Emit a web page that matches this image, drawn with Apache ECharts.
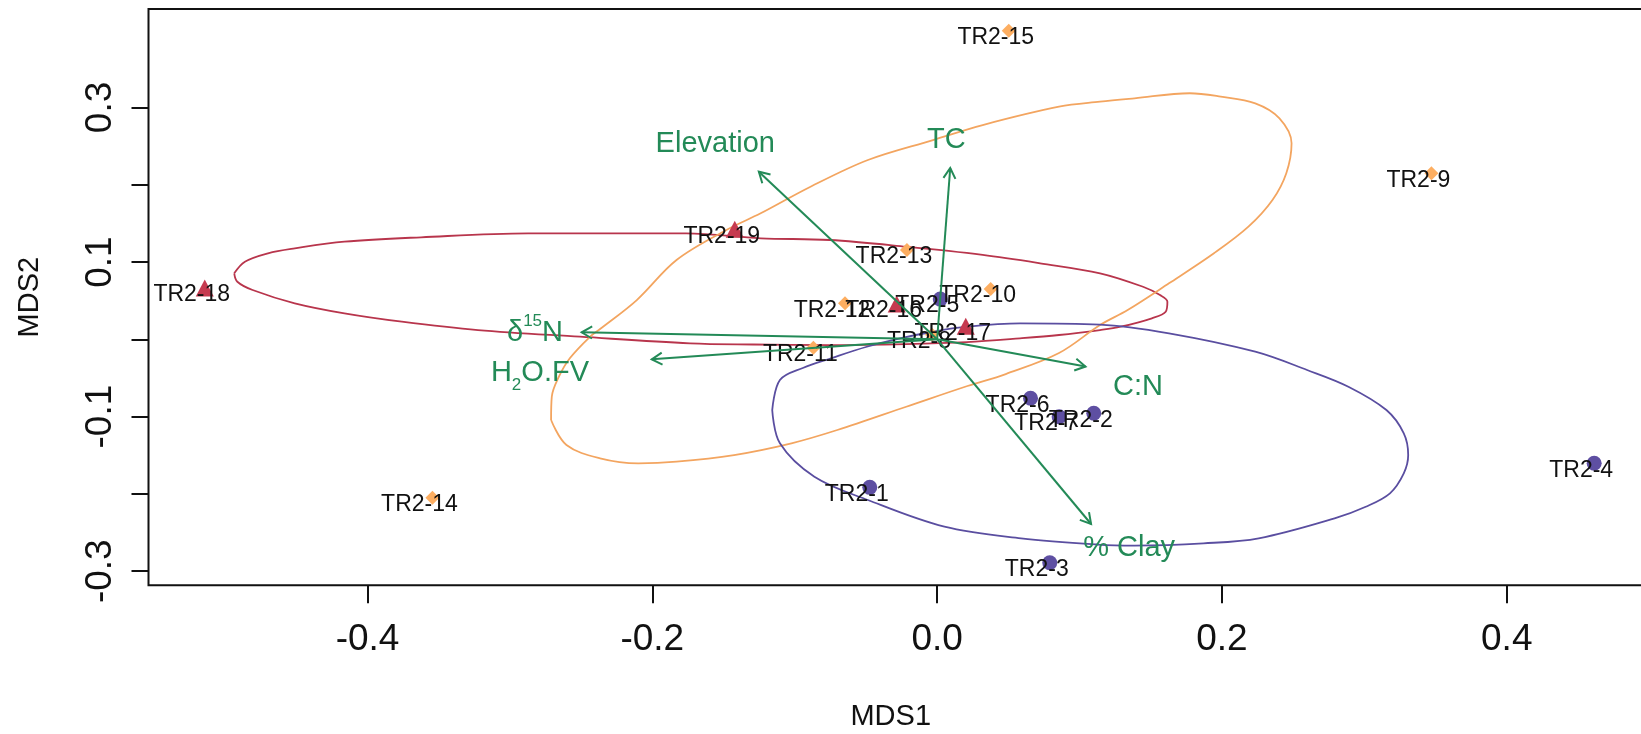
<!DOCTYPE html>
<html>
<head>
<meta charset="utf-8">
<title>NMDS ordination</title>
<script src="https://cdn.jsdelivr.net/npm/echarts@6/dist/echarts.min.js"></script>
<style>
  html, body { margin: 0; padding: 0; background: #ffffff; }
  #chart { width: 1641px; height: 734px; }
</style>
</head>
<body>
<div id="chart"></div>
<script>
// ---- sample scores (MDS1, MDS2) by group ----
const blueNames = ['TR2-1', 'TR2-2', 'TR2-3', 'TR2-4', 'TR2-5', 'TR2-6', 'TR2-7'];
const blueX = [-0.0473, 0.1100, 0.0791, 0.4614, 0.0022, 0.0656, 0.0857];
const blueY = [-0.1915, -0.0957, -0.2890, -0.1604, 0.0520, -0.0763, -0.1001];

const orangeNames = ['TR2-8', 'TR2-9', 'TR2-10', 'TR2-11', 'TR2-12', 'TR2-13', 'TR2-14', 'TR2-15'];
const orangeX = [-0.0036, 0.3471, 0.0376, -0.0869, -0.0647, -0.0212, -0.3544, 0.0503];
const orangeY = [0.0060, 0.2147, 0.0650, -0.0110, 0.0466, 0.1155, -0.2049, 0.3992];

const redNames = ['TR2-16', 'TR2-17', 'TR2-18', 'TR2-19'];
const redX = [-0.0284, 0.0201, -0.5143, -0.1421];
const redY = [0.0456, 0.0170, 0.0664, 0.1423];

// ---- group ellipse outlines ----
const redEllipseX = [-0.4936, -0.4861, -0.4699, -0.4511, -0.4162, -0.3624, -0.2873, -0.2367, -0.1763, -0.1239,
  -0.0755, -0.0217, 0.0320, 0.0723, 0.1144, 0.1446, 0.1565, 0.1617, 0.1605, 0.1508, 0.1289, 0.1144, 0.0856,
  0.0582, 0.0208, -0.0218, -0.0752, -0.1293, -0.1735, -0.2508, -0.3224, -0.3759, -0.4162, -0.4511, -0.4807, -0.4914];
const redEllipseY = [0.0854, 0.1004, 0.1113, 0.1177, 0.1263, 0.1320, 0.1371, 0.1371, 0.1371, 0.1307,
  0.1285, 0.1198, 0.1091, 0.0983, 0.0854, 0.0680, 0.0573, 0.0486, 0.0357, 0.0272, 0.0163, 0.0120, 0.0056,
  0.0013, -0.0035, -0.0061, -0.0074, -0.0067, -0.0052, 0.0034, 0.0120, 0.0228, 0.0336, 0.0466, 0.0638, 0.0745];

const orangeEllipseX = [-0.2711, -0.2706, -0.2656, -0.2578, -0.2437, -0.2367, -0.2109, -0.1830, -0.1480, -0.1239,
  -0.0889, -0.0486, -0.0029, 0.0320, 0.0856, 0.1144, 0.1386, 0.1774, 0.1992, 0.2234, 0.2404, 0.2489, 0.2452,
  0.2355, 0.2186, 0.1944, 0.1628, 0.1338, 0.1144, 0.0856, 0.0482, 0.0213, -0.0217, -0.0701, -0.1023, -0.1426,
  -0.1830, -0.2098, -0.2367, -0.2603];
const orangeEllipseY = [-0.1044, -0.0743, -0.0484, -0.0242, 0.0034, 0.0133, 0.0508, 0.1026, 0.1414, 0.1630,
  0.1974, 0.2320, 0.2578, 0.2772, 0.3009, 0.3074, 0.3118, 0.3183, 0.3139, 0.3053, 0.2859, 0.2536, 0.2148,
  0.1802, 0.1457, 0.1113, 0.0724, 0.0379, 0.0185, -0.0177, -0.0449, -0.0604, -0.0872, -0.1173, -0.1345, -0.1497,
  -0.1583, -0.1604, -0.1539, -0.1367];

const blueEllipseX = [-0.1158, -0.1104, -0.0943, -0.0740, -0.0494, -0.0261, -0.0027, 0.0208, 0.0582, 0.1144,
  0.1628, 0.2234, 0.2598, 0.2888, 0.3155, 0.3277, 0.3308, 0.3277, 0.3180, 0.3010, 0.2791, 0.2258, 0.1871,
  0.1386, 0.1126, 0.0589, 0.0051, -0.0486, -0.0862, -0.1104];
const blueEllipseY = [-0.0915, -0.0527, -0.0371, -0.0242, -0.0096, 0.0013, 0.0098, 0.0163, 0.0207, 0.0191,
  0.0078, -0.0160, -0.0397, -0.0613, -0.0915, -0.1216, -0.1497, -0.1734, -0.1992, -0.2166, -0.2316, -0.2574, -0.2639,
  -0.2668, -0.2655, -0.2574, -0.2424, -0.2079, -0.1777, -0.1345];

// ---- fitted environmental vectors ----
const vectorNames = ['Elevation', 'TC', 'd15N', 'H2O.FV', 'C:N', '% Clay'];
const vectorX = [-0.1252, 0.0092, -0.2496, -0.2004, 0.1042, 0.1081];
const vectorY = [0.2168, 0.2216, 0.0091, -0.0259, -0.0352, -0.2389];
const vectorLabelX = [-0.1558, 0.0065, -0.2824, -0.2789, 0.1411, 0.1348];
const vectorLabelY = [0.2529, 0.2578, 0.0082, -0.0442, -0.0617, -0.2700];

// ---- axis ticks ----
const xTicks = [-0.4, -0.2, 0.0, 0.2, 0.4];
const yTicks = [-0.3, -0.2, -0.1, 0.0, 0.1, 0.2, 0.3];
const yTickLabels = [-0.3, -0.1, 0.1, 0.3];

const FONT = "'Liberation Sans', Arial, Helvetica, sans-serif";
const GREEN = '#238a57';
const INK = '#111111';

// rich-text forms of the vector labels (super/subscripts)
const vectorRich = {
  'Elevation': 'Elevation',
  'TC': 'TC',
  'd15N': '{b|\u03B4}{sup|15}{b|N}',
  'H2O.FV': '{b|H}{sub|2}{b|O.FV}',
  'C:N': 'C:N',
  '% Clay': '% Clay'
};

function points(names, xs, ys) {
  return names.map((n, i) => ({ name: n, value: [xs[i], ys[i]] }));
}
function ring(xs, ys) {
  const pts = xs.map((x, i) => [x, ys[i]]);
  pts.push([xs[0], ys[0]]);
  return pts;
}

const sampleLabel = {
  show: true,
  position: 'inside',
  offset: [-13, 7],
  formatter: p => p.name,
  color: INK,
  fontSize: 23,
  fontFamily: FONT
};

function ellipseSeries(xs, ys, color) {
  return {
    type: 'line',
    data: ring(xs, ys),
    showSymbol: false,
    smooth: 0.35,
    silent: true,
    z: 2,
    lineStyle: { color: color, width: 1.8 }
  };
}

const chart = echarts.init(document.getElementById('chart'), null, { renderer: 'canvas' });

chart.setOption({
  animation: false,
  backgroundColor: '#ffffff',
  grid: {
    left: 148.5, right: -8, top: 9, bottom: 148.7,
    show: true, borderColor: INK, borderWidth: 2,
    containLabel: false, outerBoundsMode: 'none'
  },
  xAxis: {
    type: 'value',
    min: -0.5538, max: 0.4999,
    splitLine: { show: false },
    axisLine: { show: false, onZero: false },
    axisTick: { show: true, length: 18, lineStyle: { color: INK, width: 2 }, customValues: xTicks },
    axisLabel: {
      customValues: xTicks,
      formatter: v => v.toFixed(1),
      fontSize: 37, color: INK, fontFamily: FONT, margin: 36
    },
    name: 'MDS1',
    nameLocation: 'middle',
    nameGap: 117,
    nameTextStyle: { fontSize: 29, color: INK, fontFamily: FONT, padding: [0, 16, 0, 0] }
  },
  yAxis: {
    type: 'value',
    min: -0.3182, max: 0.4273,
    splitLine: { show: false },
    axisLine: { show: false, onZero: false },
    axisTick: { show: true, length: 17, lineStyle: { color: INK, width: 2 }, customValues: yTicks },
    axisLabel: {
      customValues: yTickLabels,
      formatter: v => v.toFixed(1),
      rotate: 90,
      fontSize: 37, color: INK, fontFamily: FONT, margin: 29
    },
    name: 'MDS2',
    nameLocation: 'middle',
    nameGap: 104,
    nameTextStyle: { fontSize: 29, color: INK, fontFamily: FONT }
  },
  series: [
    ellipseSeries(redEllipseX, redEllipseY, '#b8354c'),
    ellipseSeries(orangeEllipseX, orangeEllipseY, '#f3a560'),
    ellipseSeries(blueEllipseX, blueEllipseY, '#5a4ea0'),
    {
      type: 'scatter', symbol: 'circle', symbolSize: 15, z: 3,
      itemStyle: { color: '#5e4fa2', opacity: 1 },
      data: points(blueNames, blueX, blueY), label: sampleLabel
    },
    {
      type: 'scatter', symbol: 'diamond', symbolSize: 14, z: 3,
      itemStyle: { color: '#fdae61', opacity: 1 },
      data: points(orangeNames, orangeX, orangeY), label: sampleLabel
    },
    {
      type: 'scatter', symbol: 'triangle', symbolSize: [18, 17], z: 3,
      itemStyle: { color: '#c63a50', opacity: 1 },
      data: points(redNames, redX, redY), label: sampleLabel
    },
    {
      // envfit arrows from the origin with open heads, plus their labels
      type: 'custom',
      z: 4,
      silent: true,
      data: vectorNames.map((n, i) => [vectorX[i], vectorY[i], vectorLabelX[i], vectorLabelY[i]]),
      renderItem: function (params, api) {
        const o = api.coord([0, 0]);
        const e = api.coord([api.value(0), api.value(1)]);
        const lp = api.coord([api.value(2), api.value(3)]);
        const ang = Math.atan2(e[1] - o[1], e[0] - o[0]);
        const L = 12, A = Math.PI / 6;
        const h1 = [e[0] - L * Math.cos(ang - A), e[1] - L * Math.sin(ang - A)];
        const h2 = [e[0] - L * Math.cos(ang + A), e[1] - L * Math.sin(ang + A)];
        const name = vectorNames[params.dataIndex];
        return {
          type: 'group',
          children: [
            { type: 'line', shape: { x1: o[0], y1: o[1], x2: e[0], y2: e[1] },
              style: { stroke: GREEN, lineWidth: 2 } },
            { type: 'polyline', shape: { points: [h1, e, h2] },
              style: { stroke: GREEN, lineWidth: 2, fill: null } },
            { type: 'text', x: lp[0], y: lp[1],
              style: {
                text: vectorRich[name],
                fill: GREEN, fontSize: 29, fontFamily: FONT,
                align: 'center', verticalAlign: 'middle',
                rich: {
                  b: { fontSize: 29, fontFamily: FONT, fill: GREEN, lineHeight: 40 },
                  sup: { fontSize: 17, fontFamily: FONT, fill: GREEN, lineHeight: 28, verticalAlign: 'top' },
                  sub: { fontSize: 17, fontFamily: FONT, fill: GREEN, lineHeight: 18, verticalAlign: 'bottom' }
                }
              } }
          ]
        };
      }
    }
  ]
});
</script>
</body>
</html>
